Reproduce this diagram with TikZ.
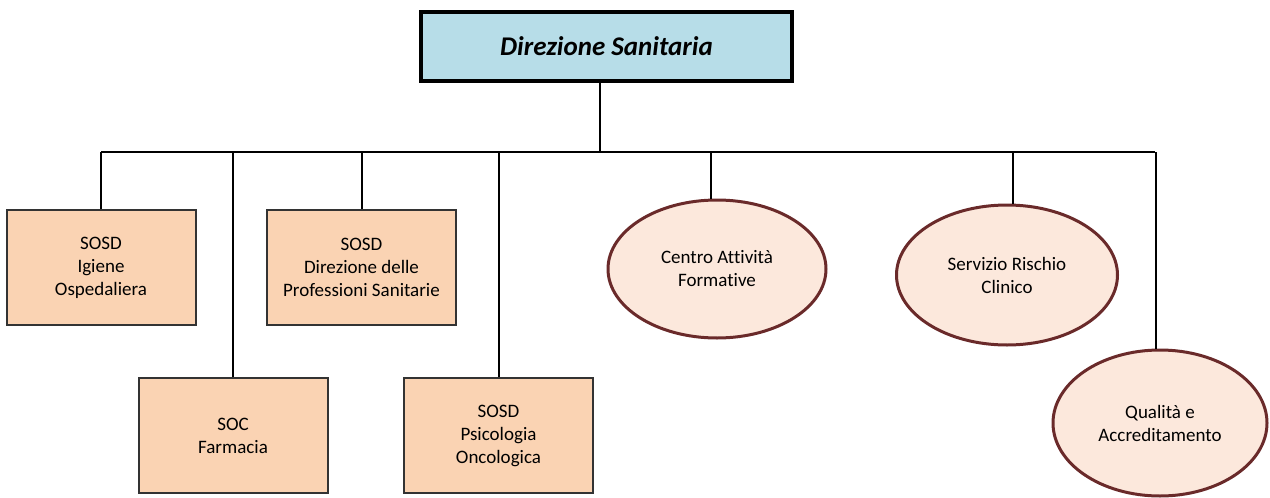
\documentclass[tikz,border=0pt]{standalone}
\usepackage{fontspec}
\setmainfont[Ligatures={NoCommon}]{Carlito}
\usetikzlibrary{shapes.geometric}
\definecolor{topfill}{HTML}{B7DDE8}
\definecolor{boxfill}{HTML}{FAD3B3}
\definecolor{ellfill}{HTML}{FCE8DC}
\definecolor{ellline}{HTML}{6A2A2A}
\definecolor{boxline}{HTML}{333333}
\tikzset{
  topbox/.style={draw=black, line width=3.5pt, fill=topfill, minimum width=371pt, minimum height=69pt, inner sep=0pt,
    font=\fontsize{27}{30}\selectfont\bfseries\itshape},
  unitbox/.style={draw=boxline, line width=2pt, fill=boxfill, minimum width=189pt, minimum height=115pt, inner sep=0pt,
    align=center, font=\fontsize{19}{23}\selectfont},
  unitell/.style={ellipse, draw=ellline, line width=3pt, fill=ellfill, inner sep=0pt, align=center,
    font=\fontsize{19}{23}\selectfont},
  link/.style={draw=black, line width=2pt}
}
\begin{document}
\begin{tikzpicture}[x=1pt,y=-1pt]
\useasboundingbox (0,0) rectangle (1270,498);
\node[topbox] (top) at (606.5,46.5) {Direzione Sanitaria};
\node[unitbox] (ig) at (101,267.5) {SOSD\\Igiene\\Ospedaliera};
\node[unitbox] (dp) at (361.5,267.5) {SOSD\\Direzione delle\\Professioni Sanitarie};
\node[unitbox] (fa) at (233,435.5) {SOC\\Farmacia};
\node[unitbox] (ps) at (498.5,435.5) {SOSD\\Psicologia\\Oncologica};
\node[unitell, minimum width=218pt, minimum height=138pt] (ca) at (717,269) {Centro Attività\\Formative};
\node[unitell, minimum width=221pt, minimum height=140pt] (sr) at (1007,275) {Servizio Rischio\\Clinico};
\node[unitell, minimum width=214pt, minimum height=146pt] (qa) at (1160,423) {Qualità e\\Accreditamento};
\coordinate (busL) at (101,152);
\coordinate (busR) at (1155,152);
\draw[link] ([xshift=-6.5pt]top.south) -- ([xshift=-6.5pt]top.south |- busL);
\draw[link] (busL) -- (busR);
\draw[link] (ig.north) -- (ig.north |- busL);
\draw[link] (dp.north) -- (dp.north |- busL);
\draw[link] (fa.north) -- (fa.north |- busL);
\draw[link] (ps.north) -- (ps.north |- busL);
\draw[link] (ca.95) -- (ca.95 |- busL);
\draw[link] (sr.85) -- (sr.85 |- busL);
\draw[link] (qa.93) -- (qa.93 |- busL);
\end{tikzpicture}
\end{document}
